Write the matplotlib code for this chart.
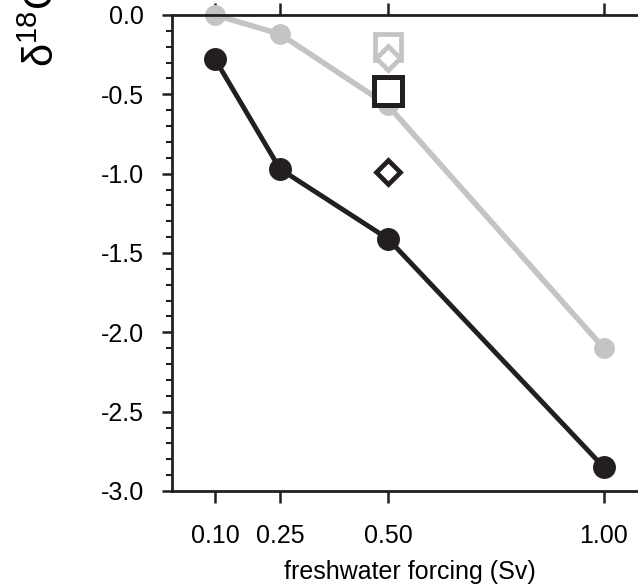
import matplotlib.pyplot as plt
from matplotlib.ticker import MultipleLocator

plt.rcParams['font.family'] = ['Liberation Sans', 'DejaVu Sans']
plt.rcParams['mathtext.default'] = 'regular'

# data
forcing = [0.10, 0.25, 0.50, 1.00]
grey_vals = [0.0, -0.12, -0.57, -2.10]
black_vals = [-0.28, -0.97, -1.41, -2.85]
sq_x = [0.50]
grey_sq = [-0.20]
grey_dia = [-0.27]
black_sq = [-0.48]
black_dia = [-0.99]
xticks = [0.10, 0.25, 0.50, 1.00]
xticklabels = ['0.10', '0.25', '0.50', '1.00']

black = '#231f20'
grey = '#c4c4c4'

fig = plt.figure(figsize=(6.38, 5.84), dpi=100)
ax = fig.add_axes([172/638, 1-491/584, 475/638, 476/584])

ax.plot(forcing, grey_vals, color=grey, lw=4.0, marker='o', ms=14, zorder=2, clip_on=False)
ax.plot(forcing, black_vals, color=black, lw=3.5, marker='o', ms=15.5, zorder=3, clip_on=False)

ax.plot(sq_x, grey_sq, ls='none', marker='s', ms=19, mew=3.4, mec=grey, mfc='white', zorder=4)
ax.plot(sq_x, grey_dia, ls='none', marker='D', ms=12, mew=3.4, mec=grey, mfc='white', zorder=5)
ax.plot(sq_x, black_sq, ls='none', marker='s', ms=19.5, mew=3.6, mec=black, mfc='white', zorder=6)
ax.plot(sq_x, black_dia, ls='none', marker='D', ms=12, mew=3.4, mec=black, mfc='white', zorder=6)

ax.set_xlim(0, 1.1)
ax.set_ylim(-3.0, 0.0)
ax.set_xticks(xticks)
ax.set_xticklabels(xticklabels)
ax.yaxis.set_major_locator(MultipleLocator(0.5))
ax.yaxis.set_minor_locator(MultipleLocator(0.1))
ax.set_yticklabels(['%.1f' % v for v in ax.get_yticks()])

for s in ax.spines.values():
    s.set_linewidth(2.0)
    s.set_color(black)

ax.tick_params(axis='x', which='major', direction='out', length=8.5, width=1.8,
               top=True, labeltop=False, labelsize=18, pad=15, color=black)
ax.tick_params(axis='y', which='major', direction='out', length=7, width=1.8,
               labelsize=18, pad=13, color=black)
ax.tick_params(axis='y', which='minor', direction='out', length=4, width=1.5, color=black)

ax.set_xlabel('freshwater forcing (Sv)', fontsize=18, labelpad=9)

fig.text(40/638, 1-67/584, 'δ$^{18}$O (‰)', rotation=90, fontsize=30,
         ha='center', va='bottom')

plt.savefig('out.png', dpi=100)
